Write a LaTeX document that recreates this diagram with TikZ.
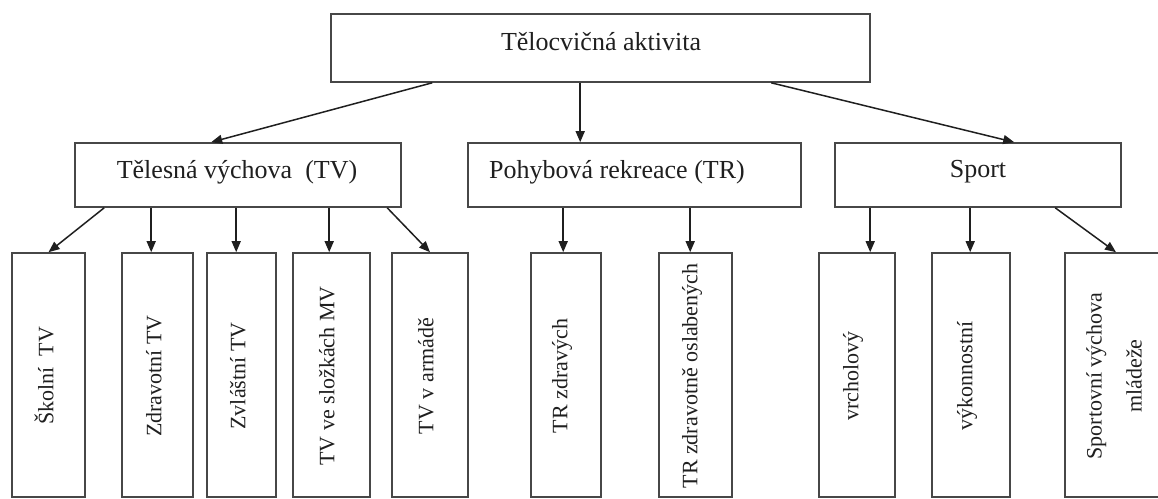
\documentclass[tikz,border=0pt]{standalone}
\usepackage{fontspec}
\setmainfont{Liberation Serif}
\usetikzlibrary{arrows.meta}
\begin{document}
\begin{tikzpicture}[x=1pt,y=-1pt,
  box/.style={draw=black!72, line width=1.6pt, rectangle, inner sep=0pt},
  lbl/.style={inner sep=0pt, text=black!88, font=\fontsize{26}{30}\selectfont},
  vlbl/.style={inner sep=0pt, text=black!88, rotate=90, align=center, font=\fontsize{22}{40}\selectfont},
  arr/.style={draw=black!88, line width=1.5pt, -{Triangle[length=11pt,width=9pt]}}]
\useasboundingbox (0,0) rectangle (1158,498);
\clip (0,0) rectangle (1158,498);
% level 0
\node[box, minimum width=539, minimum height=68] (top) at (600.5,48) {};
\node[lbl] (topt) at (601,42) {Tělocvičná aktivita};
% level 1
\node[box, minimum width=326, minimum height=64] (tv) at (238,175) {};
\node[lbl] (tvt) at (237,172) {Tělesná výchova~~(TV)};
\node[box, minimum width=333, minimum height=64] (tr) at (634.5,175) {};
\node[lbl] (trt) at (617,172) {Pohybová rekreace (TR)};
\node[box, minimum width=286, minimum height=64] (sp) at (978,175) {};
\node[lbl] (spt) at (978,172) {Sport};
% level 2
\node[box, minimum width=73, minimum height=244] (b1) at (48.5,375) {};
\node[vlbl] at (44,376) {Školní~~TV};
\node[box, minimum width=71, minimum height=244] (b2) at (157.5,375) {};
\node[vlbl] at (154,376) {Zdravotní TV};
\node[box, minimum width=69, minimum height=244] (b3) at (241.5,375) {};
\node[vlbl] at (238,376) {Zvláštní TV};
\node[box, minimum width=77, minimum height=244] (b4) at (331.5,375) {};
\node[vlbl] at (327,376) {TV ve složkách MV};
\node[box, minimum width=76, minimum height=244] (b5) at (430,375) {};
\node[vlbl] at (426,376) {TV v armádě};
\node[box, minimum width=70, minimum height=244] (b6) at (566,375) {};
\node[vlbl] at (562,376) {TR zdravých};
\node[box, minimum width=73, minimum height=244] (b7) at (695.5,375) {};
\node[vlbl] at (692,376) {TR zdravotně oslabených};
\node[box, minimum width=76, minimum height=244] (b8) at (857,375) {};
\node[vlbl] at (853,376) {vrcholový};
\node[box, minimum width=78, minimum height=244] (b9) at (971,375) {};
\node[vlbl] at (967,376) {výkonnostní};
\node[box, minimum width=102, minimum height=244] (b10) at (1116,375) {};
\node[vlbl] at (1114,376) {Sportovní výchova\\mládeže};
% connectors level 0 -> 1
\draw[arr] ([xshift=102pt]top.south west) -- ([xshift=137pt]tv.north west);
\draw[arr] ([xshift=250pt]top.south west) -- ([xshift=113pt]tr.north west);
\draw[arr] ([xshift=441pt]top.south west) -- ([xshift=180pt]sp.north west);
% TV -> children
\draw[arr] ([xshift=30pt]tv.south west) -- (b1.north);
\draw[arr] ([xshift=77pt]tv.south west) -- ([xshift=30pt]b2.north west);
\draw[arr] ([xshift=162pt]tv.south west) -- ([xshift=30pt]b3.north west);
\draw[arr] ([xshift=255pt]tv.south west) -- ([xshift=37pt]b4.north west);
\draw[arr] ([xshift=313pt]tv.south west) -- (b5.north);
% TR -> children
\draw[arr] ([xshift=96pt]tr.south west) -- ([xshift=33pt]b6.north west);
\draw[arr] ([xshift=223pt]tr.south west) -- ([xshift=32pt]b7.north west);
% Sport -> children
\draw[arr] ([xshift=36pt]sp.south west) -- ([xshift=52pt]b8.north west);
\draw[arr] ([xshift=136pt]sp.south west) -- ([xshift=39pt]b9.north west);
\draw[arr] ([xshift=221pt]sp.south west) -- (b10.north);
\end{tikzpicture}
\end{document}
